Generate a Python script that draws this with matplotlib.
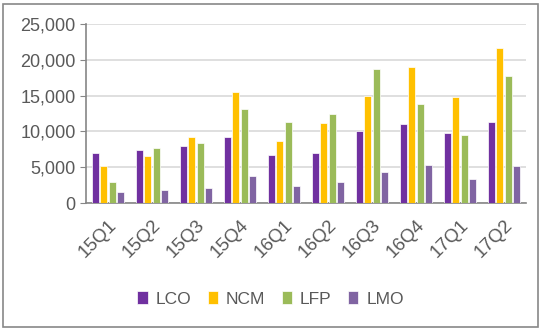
import matplotlib
matplotlib.use('Agg')
import matplotlib.pyplot as plt
import matplotlib.patches as mpatches
import numpy as np

quarters = ['15Q1', '15Q2', '15Q3', '15Q4', '16Q1', '16Q2', '16Q3', '16Q4', '17Q1', '17Q2']
lco = [7000, 7400, 7900, 9150, 6750, 7000, 10000, 11000, 9800, 11250]
ncm = [5100, 6550, 9150, 15500, 8600, 11200, 15000, 19000, 14800, 21600]
lfp = [2900, 7700, 8400, 13150, 11250, 12400, 18750, 13800, 9550, 17800]
lmo = [1500, 1750, 2150, 3800, 2400, 2900, 4300, 5300, 3350, 5100]

series = [('LCO', lco, '#7030A0'), ('NCM', ncm, '#FFC000'),
          ('LFP', lfp, '#9BBB59'), ('LMO', lmo, '#8064A2')]

plt.rcParams['font.family'] = ['Liberation Sans', 'DejaVu Sans']

fig = plt.figure(figsize=(5.41, 3.30), dpi=100)
ax = fig.add_axes([86/541, 127/330, 440/541, 179/330])

x = np.arange(len(quarters))
step = 0.19
for i, (name, vals, col) in enumerate(series):
    ax.bar(x + (i - 1.5) * step, vals, width=0.155, color=col,
           edgecolor='white', linewidth=0.5, label=name, zorder=3)

ax.set_xlim(-0.5, len(quarters) - 0.5)
ax.set_ylim(0, 25000)
ax.set_yticks(range(0, 25001, 5000))
ax.set_yticklabels([f'{v:,}' for v in range(0, 25001, 5000)])
ax.yaxis.grid(True, color='#D9D9D9', linewidth=1.2, zorder=0)
ax.set_xticks(x)
ax.set_xticklabels(quarters, rotation=45, ha='right', rotation_mode='anchor')

for s in ['top', 'right']:
    ax.spines[s].set_visible(False)
ax.spines['left'].set_color('#868686')
ax.spines['bottom'].set_color('#868686')
ax.spines['left'].set_linewidth(1.2)
ax.spines['bottom'].set_linewidth(1.2)
ax.tick_params(axis='y', length=4.5, color='#868686', labelsize=13,
               labelcolor='#595959', pad=3)
ax.tick_params(axis='x', length=0, labelsize=13.5, labelcolor='#595959', pad=10)

leg = fig.legend(loc='center', bbox_to_anchor=(0.5, 31/330), ncol=4, frameon=False,
                 fontsize=12.5, handlelength=0.6, handleheight=0.75,
                 handletextpad=0.45, columnspacing=0.95)
for t in leg.get_texts():
    t.set_color('#595959')

fig.patches.append(mpatches.Rectangle((3/541, 3/330), 535/541, 323/330,
                                      transform=fig.transFigure, fill=False,
                                      edgecolor='#888888', linewidth=1.2))

fig.savefig('out.png', dpi=100)
